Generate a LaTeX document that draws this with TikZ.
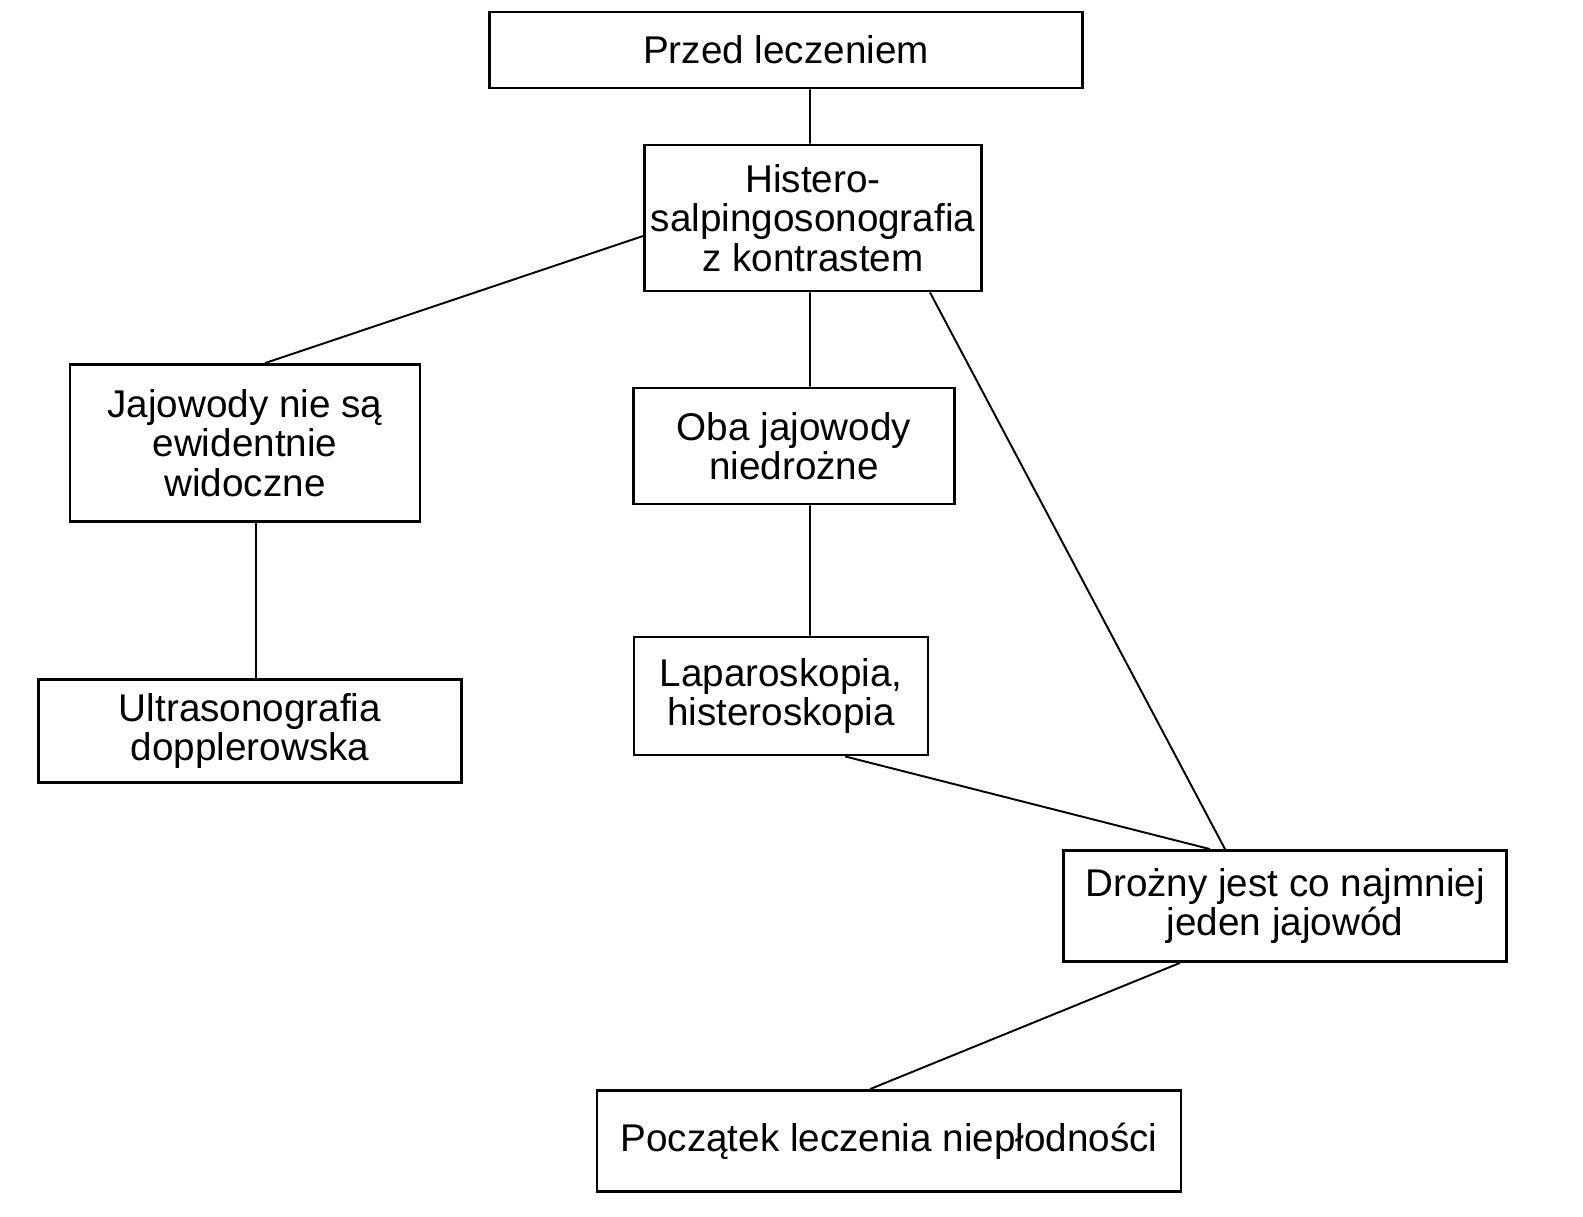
\documentclass[tikz,border=0pt]{standalone}
\usepackage{fontspec}
\setmainfont{Liberation Sans}
\usetikzlibrary{positioning}
\tikzset{
        box/.style={draw, line width=1.6pt, align=center, inner sep=0pt,
                    font=\fontsize{22}{22.5}\selectfont},
        link/.style={line width=1.1pt},
 }
\begin{document}
\begin{tikzpicture}[x=0.02cm, y=-0.02cm]
    \useasboundingbox (0,0) rectangle (1583,1217);

    \node[box, minimum width=11.86cm, minimum height=1.52cm] (przed) at (786,50) {Przed leczeniem};
    \node[box, minimum width=6.74cm, minimum height=2.92cm] (hist) at (813,218)
        {Histero-\\salpingosonografia\\z kontrastem};
    \node[box, minimum width=7cm, minimum height=3.14cm] (niewid) at (245,443)
        {Jajowody nie są\\ewidentnie\\widoczne};
    \node[box, minimum width=6.42cm, minimum height=2.32cm] (oba) at (794,446)
        {Oba jajowody\\niedrożne};
    \node[box, minimum width=8.46cm, minimum height=2.06cm] (usg) at (250,731)
        {Ultrasonografia\\dopplerowska};
    \node[box, minimum width=5.88cm, minimum height=2.36cm] (lap) at (781,696)
        {Laparoskopia,\\histeroskopia};
    \node[box, minimum width=8.86cm, minimum height=2.22cm] (drozny) at (1285,906)
        {Drożny jest co najmniej\\jeden jajowód};
    \node[box, minimum width=11.68cm, minimum height=2.02cm] (start) at (889,1141)
        {Początek leczenia niepłodności};

    \draw[link] ([xshift=0.48cm]przed.south) -- ([xshift=-0.06cm]hist.north);
    \draw[link] ([yshift=-0.36cm]hist.west) -- ([xshift=0.4cm]niewid.north);
    \draw[link] ([xshift=-0.06cm]hist.south) -- ([xshift=0.32cm]oba.north);
    \draw[link] ([xshift=2.34cm]hist.south) -- ([xshift=-1.2cm]drozny.north);
    \draw[link] ([xshift=0.22cm]niewid.south) -- ([xshift=0.12cm]usg.north);
    \draw[link] ([xshift=0.32cm]oba.south) -- ([xshift=0.58cm]lap.north);
    \draw[link] ([xshift=1.28cm]lap.south) -- ([xshift=-1.5cm]drozny.north);
    \draw[link] ([xshift=-2.1cm]drozny.south) -- ([xshift=-0.38cm]start.north);
\end{tikzpicture}
\end{document}
